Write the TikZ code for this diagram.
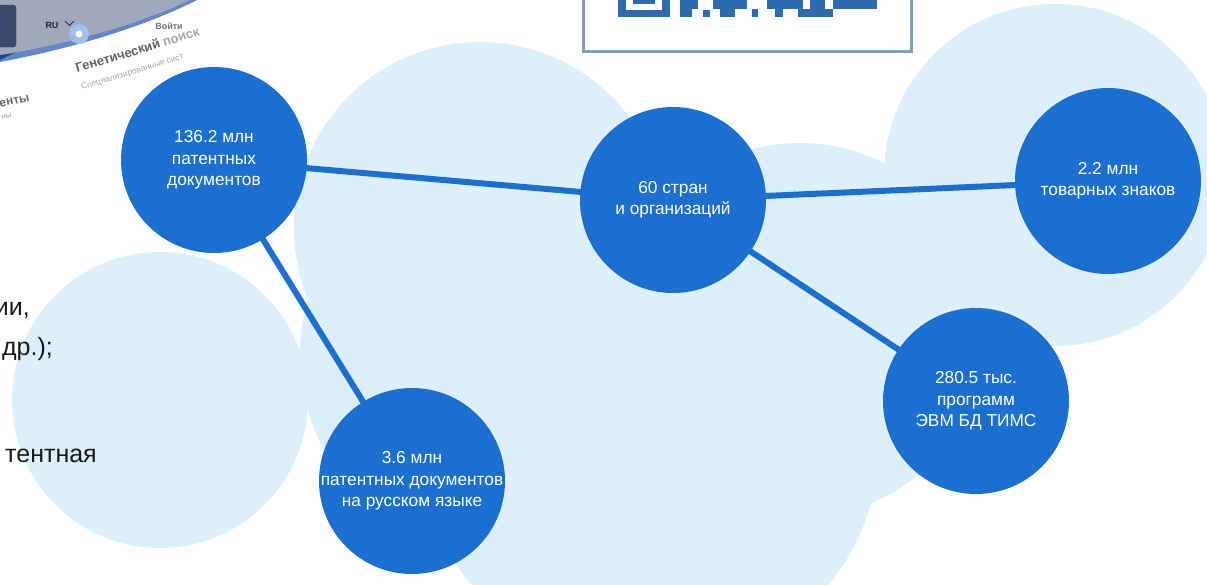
\documentclass[tikz,border=0pt]{standalone}
\usepackage{fontspec}
\setmainfont{Liberation Sans}
\pgfdeclarelayer{bg}
\pgfdeclarelayer{links}
\pgfsetlayers{bg,links,main}
\definecolor{circblue}{RGB}{26,111,209}
\definecolor{lightbg}{RGB}{221,239,251}
\definecolor{qrblue}{RGB}{46,106,176}
\definecolor{qrframe}{RGB}{125,160,200}
\definecolor{bandgray}{RGB}{160,168,188}
\definecolor{edgeblue}{RGB}{98,134,198}
\definecolor{darkband}{RGB}{30,70,150}
\definecolor{slate}{RGB}{58,74,108}
\definecolor{dotblue}{RGB}{160,192,234}
\begin{document}
\begin{tikzpicture}[x=1pt,y=-1pt,
  stat/.style={circle, fill=circblue, inner sep=0pt, minimum size=186pt},
  stattext/.style={text=white, align=center, inner sep=0pt, font=\fontsize{17.3}{21.5}\selectfont},
  link/.style={draw=circblue, line width=6pt},
  bgdisc/.style={fill=lightbg},
  qrmod/.style={fill=qrblue},
  lefttext/.style={anchor=base east, inner sep=0pt, text=black!90, font=\fontsize{25}{25}\selectfont}]
\useasboundingbox (0,0) rectangle (1207,584);
\clip (0,0) rectangle (1207,584);

% background discs
\begin{pgfonlayer}{bg}
\fill[bgdisc] (160,400) circle[radius=148];
\fill[bgdisc] (480,228) circle[radius=186];
\fill[bgdisc] (1055,175) circle[radius=171];
\fill[bgdisc] (800,330) circle[radius=187];
\fill[bgdisc] (500,355) circle[radius=200];
\fill[bgdisc] (650,440) circle[radius=230];
\end{pgfonlayer}

% screenshot fragment, top left
\fill[edgeblue] (0,0) -- (197,0) .. controls (150,24) and (80,47) .. (0,62) -- cycle;
\fill[darkband] (0,50) -- (26,47) -- (0,60) -- cycle;
\fill[bandgray] (0,0) -- (190,0) .. controls (146,21) and (76,43) .. (0,55) -- cycle;
\filldraw[fill=slate, draw=black!80, rounded corners=3] (-6,5) rectangle (16,47);
\node[inner sep=0pt, text=black!85, font=\bfseries\fontsize{9}{9}\selectfont] (ru) at (52,25) {RU};
\draw[black!80, line width=1] (65,21) -- (69.5,25.5) -- (74,21);
\fill[dotblue] (79,34) circle[radius=10];
\fill[white] (79,34) circle[radius=3.5];
\node[inner sep=0pt, text=black!55, font=\bfseries\fontsize{9}{9}\selectfont] (login) at (169,26) {Войти};
\node[rotate=17, anchor=base west, inner sep=0pt, font=\bfseries\fontsize{13}{13}\selectfont] (gen) at (77,73) {\textcolor{black!62}{Генетический} \textcolor{black!35}{поиск}};
\node[rotate=17, anchor=base west, inner sep=0pt, text=black!35, font=\fontsize{8.5}{8.5}\selectfont] (spec) at (82,90) {Специализированные сист};
\node[rotate=12, anchor=base east, inner sep=0pt, text=black!60, font=\bfseries\fontsize{12}{12}\selectfont] (pat) at (30,101) {енты};
\node[rotate=12, anchor=base east, inner sep=0pt, text=black!40, font=\fontsize{8}{8}\selectfont] (pat2) at (12,117) {ны};

% QR code fragment
\fill[white] (583,-10) rectangle (911,51);
\draw[qrframe, line width=3] (583,-10) rectangle (911,51);
\fill[qrmod] (618,-2) rectangle (626,17);
\fill[qrmod] (662,-2) rectangle (670,17);
\fill[qrmod] (618,10) rectangle (670,17);
\fill[qrmod] (633,-2) rectangle (655,4);
\fill[qrmod] (680,-2) rectangle (698,9);
\fill[qrmod] (680,9) rectangle (692,17);
\fill[qrmod] (703,10) rectangle (710,17);
\fill[qrmod] (713,-2) rectangle (747,9);
\fill[qrmod] (720,9) rectangle (735,17);
\fill[qrmod] (752,9) rectangle (758,17);
\fill[qrmod] (767,-2) rectangle (803,9);
\fill[qrmod] (775,9) rectangle (783,17);
\fill[qrmod] (798,9) rectangle (833,17);
\fill[qrmod] (810,-2) rectangle (825,9);
\fill[qrmod] (833,-2) rectangle (877,9);

% left text fragments
\node[lefttext] (l1) at (30,315) {ии,};
\node[lefttext] (l2) at (53,355) {др.);};
\node[lefttext] (l3) at (97,462) {тентная};

% statistic circles
\node[stat] (c1) at (214,160) {};
\node[stat] (c2) at (673,200) {};
\node[stat] (c3) at (1108,181) {};
\node[stat] (c4) at (976,401) {};
\node[stat] (c5) at (412,481) {};
\node[stattext] (t1) at (c1) {136.2 млн\\патентных\\документов};
\node[stattext] (t2) at (c2) {60 стран\\и организаций};
\node[stattext] (t3) at (c3) {2.2 млн\\товарных знаков};
\node[stattext] (t4) at (c4) {280.5 тыс.\\программ\\ЭВМ БД ТИМС};
\node[stattext] (t5) at (c5) {3.6 млн\\патентных документов\\на русском языке};

\begin{pgfonlayer}{links}
\draw[link] (c1.center) -- (c2.center);
\draw[link] (c2.center) -- (c3.center);
\draw[link] (c2.center) -- (c4.center);
\draw[link] (c1.center) -- (c5.center);
\end{pgfonlayer}
\end{tikzpicture}
\end{document}
